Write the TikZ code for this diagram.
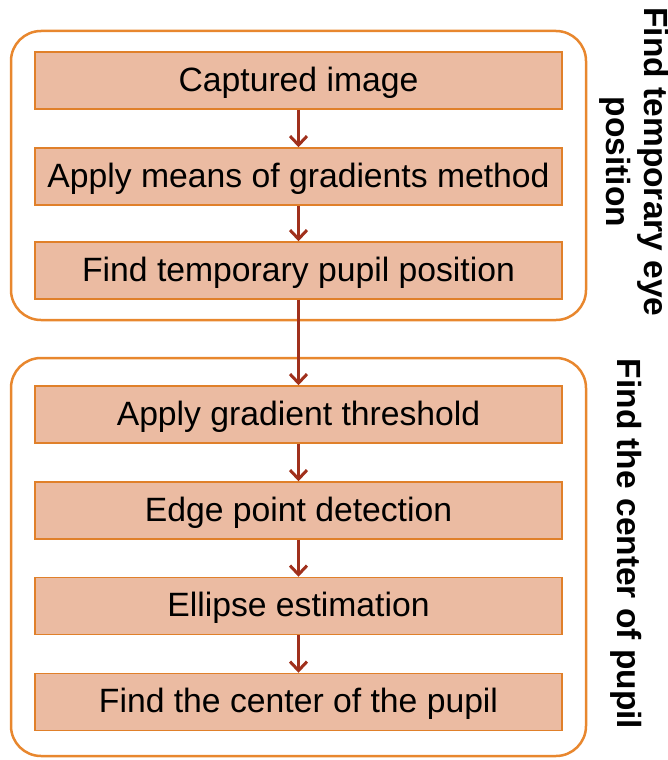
\documentclass[tikz,border=0pt]{standalone}
\usepackage{fontspec}
\setmainfont{Liberation Sans}
\usetikzlibrary{arrows.meta}
\definecolor{stepfill}{HTML}{EBBBA2}
\definecolor{stepline}{HTML}{E0802A}
\definecolor{groupline}{HTML}{E8872E}
\definecolor{flowred}{HTML}{A0301C}
\tikzset{
  stepbox/.style={draw=stepline, line width=1.5pt, fill=stepfill,
    minimum width=527pt, minimum height=57pt, inner sep=0pt,
    font=\fontsize{33.7}{38}\selectfont},
  steptext/.style={yshift=-2pt},
  groupbox/.style={draw=groupline, line width=2.5pt, rounded corners=30pt},
  flow/.style={draw=flowred, line width=3pt,
    -{Straight Barb[length=9pt,width=17pt,line width=3pt]}},
  sidelabel/.style={rotate=-90, align=center, inner sep=0pt,
    font=\fontsize{33.5}{38}\selectfont\bfseries}
}
\begin{document}
\begin{tikzpicture}[x=1pt,y=-1pt]
  \useasboundingbox (0,0) rectangle (667,760);
  % two groups
  \draw[groupbox] (11,31) rectangle (586,320);
  \draw[groupbox] (11,358) rectangle (586,756);
  % steps
  \node[stepbox] (s1) at (298.5,80.5) {};
  \node[stepbox] (s2) at (298.5,176.5) {};
  \node[stepbox] (s3) at (298.5,270.5) {};
  \node[stepbox] (s4) at (298.5,414.5) {};
  \node[stepbox] (s5) at (298.5,510.5) {};
  \node[stepbox] (s6) at (298.5,606) {};
  \node[stepbox] (s7) at (298.5,702) {};
  % step captions
  \foreach \n/\t in {s1/Captured image,
                     s2/Apply means of gradients method,
                     s3/Find temporary pupil position,
                     s4/Apply gradient threshold,
                     s5/Edge point detection,
                     s6/Ellipse estimation,
                     s7/Find the center of the pupil}
    \node[font=\fontsize{33.7}{38}\selectfont, steptext] (\n t) at (\n.center) {\t};
  % connectors
  \draw[flow] (s1.south) -- (s2.north);
  \draw[flow] (s2.south) -- (s3.north);
  \draw[flow] (s3.south) -- (s4.north);
  \draw[flow] (s4.south) -- (s5.north);
  \draw[flow] (s5.south) -- (s6.north);
  \draw[flow] (s6.south) -- (s7.north);
  % group captions
  \node[sidelabel] (g1) at (634,162) {Find temporary eye\\position};
  \node[sidelabel] (g2) at (626,544) {Find the center of pupil};
\end{tikzpicture}
\end{document}
